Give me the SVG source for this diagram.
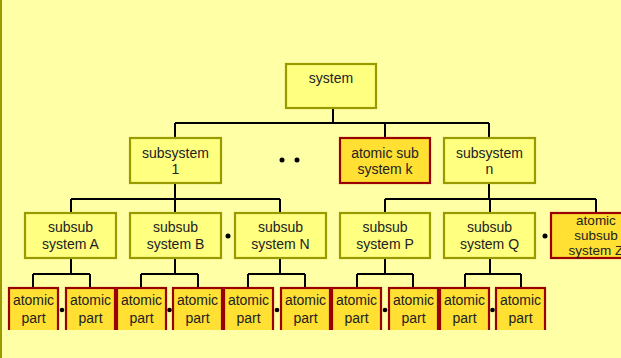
<svg xmlns="http://www.w3.org/2000/svg" width="621" height="358" viewBox="0 0 621 358">
<defs>
<style>
.bg{fill:#FFFFA6}
.box{fill:#FFFF80;stroke:#999900;stroke-width:2.2}
.atom{fill:#FFE033;stroke:#990000;stroke-width:2.2}
.con{fill:none;stroke:#000;stroke-width:2}
text{font-family:"Liberation Sans",Arial,sans-serif;font-size:14px;fill:#222;text-anchor:middle}
.sm{font-size:13.5px}
.dot{fill:#000}
</style>
<clipPath id="clip"><rect x="0" y="0" width="621" height="330"/></clipPath>
</defs>
<rect class="bg" x="0" y="0" width="621" height="358"/>
<line x1="1" y1="0" x2="1" y2="358" stroke="#999900" stroke-width="2"/>
<g id="connectors" class="con">
<path d="M333 108V123M175 123H489M175 123V138M385 123V138M489 123V138"/>
<path d="M175 183V199M71 199H280M71 199V213M175 199V213M280 199V213"/>
<path d="M489 183V199M385 199H596M385 199V213M490 199V213M596 199V213"/>
<path d="M71 258V274M33 274H90M33 274V288M90 274V288"/>
<path d="M175 258V274M141 274H198M141 274V288M198 274V288"/>
<path d="M280 258V274M248 274H305M248 274V288M305 274V288"/>
<path d="M385 258V274M357 274H413M357 274V288M413 274V288"/>
<path d="M490 258V274M465 274H521M465 274V288M521 274V288"/>
</g>
<g id="system"><rect class="box" x="286" y="64" width="90" height="44"/><text x="331" y="83">system</text></g>
<g id="subsystem1"><rect class="box" x="130" y="138" width="91" height="45"/><text x="175.5" y="158">subsystem</text><text x="175.5" y="174">1</text></g>
<g id="atomicsubk"><rect class="atom" x="340" y="138" width="90" height="45"/><text x="385" y="158">atomic sub</text><text x="385" y="174">system k</text></g>
<g id="subsystemn"><rect class="box" x="444" y="138" width="91" height="45"/><text x="489.5" y="158">subsystem</text><text x="489.5" y="174">n</text></g>
<g id="dots1"><circle class="dot" cx="282" cy="160" r="2.5"/><circle class="dot" cx="297" cy="160" r="2.5"/></g>
<g id="subsubA"><rect class="box" x="25" y="213" width="91" height="45"/><text x="70.5" y="232">subsub</text><text x="70.5" y="249">system A</text></g>
<g id="subsubB"><rect class="box" x="130" y="213" width="91" height="45"/><text x="175.5" y="232">subsub</text><text x="175.5" y="249">system B</text></g>
<g id="subsubN"><rect class="box" x="235" y="213" width="91" height="45"/><text x="280.5" y="232">subsub</text><text x="280.5" y="249">system N</text></g>
<g id="subsubP"><rect class="box" x="340" y="213" width="90" height="45"/><text x="385" y="232">subsub</text><text x="385" y="249">system P</text></g>
<g id="subsubQ"><rect class="box" x="444" y="213" width="91" height="45"/><text x="489.5" y="232">subsub</text><text x="489.5" y="249">system Q</text></g>
<g id="atomicsubsubZ"><rect class="atom" x="551" y="213" width="90" height="45"/><text class="sm" x="596" y="225">atomic</text><text class="sm" x="596" y="240">subsub</text><text class="sm" x="596" y="255">system Z</text></g>
<g id="dots2"><circle class="dot" cx="228" cy="236" r="2.5"/><circle class="dot" cx="545" cy="236" r="2.5"/></g>
<g clip-path="url(#clip)">
<g id="part1"><rect class="atom" x="9" y="288" width="49" height="50"/><text x="33.5" y="305">atomic</text><text x="33.5" y="323">part</text></g>
<g id="part2"><rect class="atom" x="66" y="288" width="49" height="50"/><text x="90.5" y="305">atomic</text><text x="90.5" y="323">part</text></g>
<g id="part3"><rect class="atom" x="117" y="288" width="49" height="50"/><text x="141.5" y="305">atomic</text><text x="141.5" y="323">part</text></g>
<g id="part4"><rect class="atom" x="173" y="288" width="49" height="50"/><text x="197.5" y="305">atomic</text><text x="197.5" y="323">part</text></g>
<g id="part5"><rect class="atom" x="224" y="288" width="49" height="50"/><text x="248.5" y="305">atomic</text><text x="248.5" y="323">part</text></g>
<g id="part6"><rect class="atom" x="281" y="288" width="49" height="50"/><text x="305.5" y="305">atomic</text><text x="305.5" y="323">part</text></g>
<g id="part7"><rect class="atom" x="332" y="288" width="49" height="50"/><text x="356.5" y="305">atomic</text><text x="356.5" y="323">part</text></g>
<g id="part8"><rect class="atom" x="389" y="288" width="49" height="50"/><text x="413.5" y="305">atomic</text><text x="413.5" y="323">part</text></g>
<g id="part9"><rect class="atom" x="440" y="288" width="49" height="50"/><text x="464.5" y="305">atomic</text><text x="464.5" y="323">part</text></g>
<g id="part10"><rect class="atom" x="496" y="288" width="49" height="50"/><text x="520.5" y="305">atomic</text><text x="520.5" y="323">part</text></g>
</g>
<g id="dots3"><circle class="dot" cx="62" cy="310" r="2.3"/><circle class="dot" cx="169.5" cy="310" r="2.3"/><circle class="dot" cx="277" cy="310" r="2.3"/><circle class="dot" cx="385" cy="310" r="2.3"/><circle class="dot" cx="492.5" cy="310" r="2.3"/></g>
</svg>
